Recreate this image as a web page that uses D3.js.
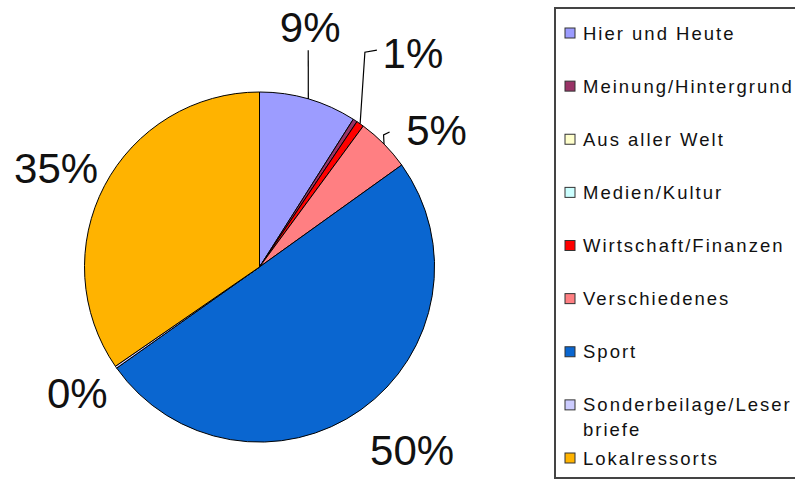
<!DOCTYPE html>
<html>
<head>
<meta charset="utf-8">
<script src="https://cdn.jsdelivr.net/npm/d3@7/dist/d3.min.js"></script>
<style>
  html, body { margin: 0; padding: 0; background: #fff; }
  svg { display: block; }
</style>
</head>
<body>
<svg id="chart" width="795" height="480"></svg>
<script>
// Ressort shares (percent of total)
const categories = [
  "Hier und Heute",
  "Meinung/Hintergrund",
  "Aus aller Welt",
  "Medien/Kultur",
  "Wirtschaft/Finanzen",
  "Verschiedenes",
  "Sport",
  "Sonderbeilage/Leserbriefe",
  "Lokalressorts"
];
const shares = [9.0, 0.4, 0, 0, 0.7, 5.0, 50.1, 0.2, 34.6];
const colors = ["#9c9cff", "#993366", "#ffffcc", "#ccffff", "#ff0000", "#ff7f82", "#0a66d0", "#ccccff", "#ffb300"];
// which slices carry a percentage label
const labelled = ["Hier und Heute", "Wirtschaft/Finanzen", "Verschiedenes", "Sport", "Sonderbeilage/Leserbriefe", "Lokalressorts"];

const data = categories.map((c, i) => ({ name: c, value: shares[i], color: colors[i] }));

const svg = d3.select("#chart");
const cx = 259.5, cy = 267, radius = 175;

const pie = d3.pie().sort(null).value(d => d.value).startAngle(0).endAngle(2 * Math.PI);
const arcs = pie(data);
const arc = d3.arc().innerRadius(0).outerRadius(radius);
const labelArc = d3.arc().innerRadius(232).outerRadius(232);

const g = svg.append("g").attr("transform", `translate(${cx},${cy})`);

g.selectAll("path.slice")
  .data(arcs.filter(a => a.value > 0))
  .join("path")
  .attr("class", "slice")
  .attr("d", arc)
  .attr("fill", d => d.data.color)
  .attr("stroke", "#000")
  .attr("stroke-width", 1)
  .attr("stroke-linejoin", "round");

// label placement tweaks: nudge of the text from the label arc, and leader attach points relative to text
const labelLayout = {
  "Hier und Heute":            { nudge: [-14, -17], leader: [[-2, 23]] },
  "Wirtschaft/Finanzen":       { nudge: [20, -24],  leader: [[-36, -3], [-48, -1]] },
  "Verschiedenes":             { nudge: [12, 26],   leader: [[-47, 2], [-53, 5]] },
  "Sport":                     { nudge: [18, -6] },
  "Sonderbeilage/Leserbriefe": { nudge: [8, -7] },
  "Lokalressorts":             { nudge: [2, 9] }
};

const fmt = d3.format(".0%");
const labelData = arcs.filter(a => labelled.includes(a.data.name)).map(a => {
  const c = labelArc.centroid(a);
  const lay = labelLayout[a.data.name];
  return { a, x: c[0] + lay.nudge[0], y: c[1] + lay.nudge[1], lay };
});

// leader lines from the label to the middle of the slice rim
labelData.filter(d => d.lay.leader).forEach(d => {
  const pts = d.lay.leader.map(p => [d.x + p[0], d.y + p[1]]);
  const mid = (d.a.startAngle + d.a.endAngle) / 2;
  pts.push([Math.sin(mid) * radius, -Math.cos(mid) * radius]);
  g.append("path")
    .attr("d", d3.line()(pts))
    .attr("fill", "none")
    .attr("stroke", "#000")
    .attr("stroke-width", 1.2);
});

g.selectAll("text.pct")
  .data(labelData)
  .join("text")
  .attr("class", "pct")
  .attr("x", d => d.x)
  .attr("y", d => d.y)
  .attr("dy", "0.36em")
  .attr("text-anchor", "middle")
  .attr("font-family", "Liberation Sans, Arial, sans-serif")
  .attr("font-size", 42)
  .attr("fill", "#111")
  .text(d => fmt(d.a.data.value / 100));

// legend
const legendX = 555, legendTop = 8, legendBottom = 478;
svg.append("rect")
  .attr("x", legendX).attr("y", legendTop)
  .attr("width", 260).attr("height", legendBottom - legendTop)
  .attr("fill", "#fff")
  .attr("stroke", "#444")
  .attr("stroke-width", 2);

const rowY = d3.scalePoint().domain(categories).range([33, 458]);
const maxTextWidth = 795 - 583;

const items = svg.selectAll("g.item")
  .data(data)
  .join("g")
  .attr("class", "item")
  .attr("transform", d => `translate(565,${rowY(d.name)})`);

items.append("rect")
  .attr("x", 0).attr("y", -5)
  .attr("width", 10).attr("height", 10)
  .attr("fill", d => d.color)
  .attr("stroke", "#333")
  .attr("stroke-width", 1);

items.append("text")
  .attr("x", 18)
  .attr("y", 6.5)
  .attr("font-family", "Liberation Sans, Arial, sans-serif")
  .attr("font-size", 18.5)
  .attr("letter-spacing", 2)
  .attr("fill", "#111")
  .each(function (d) {
    const t = d3.select(this);
    // wrap long labels character by character
    const lines = [];
    let cur = "";
    const probe = t.append("tspan");
    for (const ch of d.name) {
      probe.text(cur + ch);
      if (probe.node().getComputedTextLength() > maxTextWidth && cur.length) {
        lines.push(cur);
        cur = ch;
      } else {
        cur += ch;
      }
    }
    lines.push(cur);
    probe.remove();
    lines.forEach((line, i) => {
      t.append("tspan").attr("x", 18).attr("dy", i === 0 ? 0 : 25).text(line);
    });
  });
</script>
</body>
</html>
